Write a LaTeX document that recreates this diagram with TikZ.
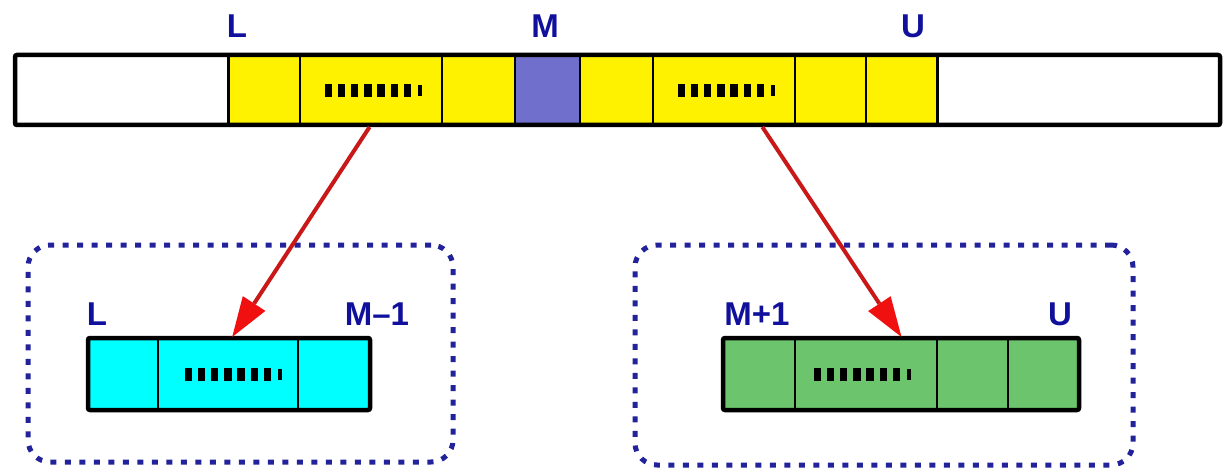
\documentclass[tikz,border=0pt]{standalone}
\usepackage{fontspec}
\setmainfont{Liberation Sans}
\usetikzlibrary{arrows.meta,calc}
\definecolor{lblblue}{HTML}{10109C}
\definecolor{grpblue}{HTML}{22229A}
\definecolor{midcell}{HTML}{7070CC}
\definecolor{lowcell}{HTML}{00FFFF}
\definecolor{highcell}{HTML}{6CC46C}
\definecolor{arrline}{HTML}{C81818}
\definecolor{arrhead}{HTML}{F01010}
\tikzset{
  cell/.style={draw=black, line width=1.5pt, inner sep=0pt, outer sep=0pt, minimum height=70pt},
  lowc/.style={cell, fill=lowcell, minimum height=72pt},
  highc/.style={cell, fill=highcell, minimum height=72pt},
  frame/.style={draw=black, line width=4.5pt, rounded corners=2pt},
  bound/.style={draw=black, line width=3pt},
  lbl/.style={text=lblblue, font=\fontsize{33}{33}\selectfont\bfseries, inner sep=0pt},
  grp/.style={draw=grpblue, line width=5pt, dash pattern=on 6pt off 8.5pt, rounded corners=22pt, inner sep=0pt},
  arr/.style={draw=arrline, line width=4pt, -{Triangle[length=40pt,width=27pt,fill=arrhead,line width=0pt]}},
  ellip/.pic={
    \foreach \i in {0,...,6} \fill (\i*13.2-49.5,-6.5) rectangle ++(7.5,13);
    \fill (44,-5.5) rectangle ++(3.5,11);
  }
}
\begin{document}
\begin{tikzpicture}[x=1pt,y=-1pt]
\useasboundingbox (0,0) rectangle (1226,473);

% full array
\node[cell, fill=white,     minimum width=213pt] (t1)  at (121.5,90) {};
\node[cell, fill=yellow,    minimum width=72pt]  (t2)  at (264,90) {};
\node[cell, fill=yellow,    minimum width=142pt] (t3)  at (371,90) {};
\node[cell, fill=yellow,    minimum width=73pt]  (t4)  at (478.5,90) {};
\node[cell, fill=midcell,   minimum width=65pt]  (t5)  at (547.5,90) {};
\node[cell, fill=yellow,    minimum width=73pt]  (t6)  at (616.5,90) {};
\node[cell, fill=yellow,    minimum width=142pt] (t7)  at (724,90) {};
\node[cell, fill=yellow,    minimum width=71pt]  (t8)  at (830.5,90) {};
\node[cell, fill=yellow,    minimum width=71pt]  (t9)  at (901.5,90) {};
\node[cell, fill=white,     minimum width=283pt] (t10) at (1078.5,90) {};
\draw[frame] (t1.north west) rectangle (t10.south east);
\draw[bound] (t1.north east) -- (t1.south east);
\draw[bound] (t9.north east) -- (t9.south east);
\pic at ($(t3.center)+(3,1)$) {ellip};
\pic at ($(t7.center)+(3,1)$) {ellip};

\node[lbl] (lL) at (237,26) {L};
\node[lbl] (lM) at (545,26) {M};
\node[lbl] (lU) at (913,26) {U};

% lower half
\node[grp, minimum width=425pt, minimum height=217pt] (gl) at (240.5,353.5) {};
\node[lowc, minimum width=70pt]  (b1) at (123,374) {};
\node[lowc, minimum width=140pt] (b2) at (228,374) {};
\node[lowc, minimum width=72pt]  (b3) at (334,374) {};
\draw[frame] (b1.north west) rectangle (b3.south east);
\pic at ($(b2.center)+(6,0)$) {ellip};
\node[lbl] (bL)  at (97,314)  {L};
\node[lbl] (bM1) at (377,314) {M–1};

% upper half
\node[grp, minimum width=498pt, minimum height=220pt] (gr) at (884,355) {};
\node[highc, minimum width=72pt]  (g1) at (759,374) {};
\node[highc, minimum width=142pt] (g2) at (866,374) {};
\node[highc, minimum width=71pt]  (g3) at (972.5,374) {};
\node[highc, minimum width=71pt]  (g4) at (1043.5,374) {};
\draw[frame] (g1.north west) rectangle (g4.south east);
\pic at ($(g2.center)+(-3,0)$) {ellip};
\node[lbl] (gM1) at (757,314)  {M+1};
\node[lbl] (gU)  at (1060,314) {U};

% split arrows
\draw[arr] ($(t3.south west)!0.49!(t3.south east)+(0,2)$) -- ($(b2.north west)!0.53!(b2.north east)+(0,-1)$);
\draw[arr] ($(t7.south west)!0.77!(t7.south east)+(0,2)$) -- ($(g2.north west)!0.75!(g2.north east)+(0,-1)$);
\end{tikzpicture}
\end{document}
